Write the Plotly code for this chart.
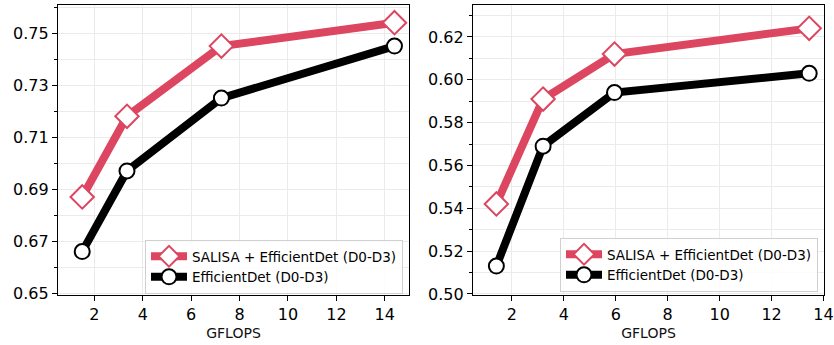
import plotly.graph_objects as go
from plotly.subplots import make_subplots

# GFLOPS vs accuracy, two benchmarks
left_gflops = [1.5, 3.35, 7.25, 14.4]
left_salisa = [0.687, 0.718, 0.745, 0.754]
left_effdet = [0.666, 0.697, 0.725, 0.745]

right_gflops = [1.4, 3.2, 5.95, 13.45]
right_salisa = [0.542, 0.591, 0.612, 0.624]
right_effdet = [0.513, 0.569, 0.594, 0.603]

left_yticks = [0.65, 0.67, 0.69, 0.71, 0.73, 0.75]
right_yticks = [0.50, 0.52, 0.54, 0.56, 0.58, 0.60, 0.62]
xticks = [2, 4, 6, 8, 10, 12, 14]

RED = "#dc4660"
BLACK = "#000000"
FONT = "DejaVu Sans"

fig = make_subplots(rows=1, cols=2)

def add_pair(x, ys, yb, col, legend):
    fig.add_trace(go.Scatter(
        x=x, y=ys, mode="lines+markers", name="SALISA + EfficientDet (D0-D3)",
        line=dict(color=RED, width=8),
        marker=dict(symbol="diamond", size=18, color="white",
                    line=dict(color=RED, width=2)),
        legend=legend), row=1, col=col)
    fig.add_trace(go.Scatter(
        x=x, y=yb, mode="lines+markers", name="EfficientDet (D0-D3)",
        line=dict(color=BLACK, width=8),
        marker=dict(symbol="circle", size=15, color="white",
                    line=dict(color=BLACK, width=2)),
        legend=legend), row=1, col=col)

add_pair(left_gflops, left_salisa, left_effdet, 1, "legend")
add_pair(right_gflops, right_salisa, right_effdet, 2, "legend2")

axis_common = dict(
    showline=True, linecolor="black", linewidth=1.2, mirror=True,
    ticks="outside", ticklen=5, tickwidth=1, tickcolor="black",
    gridcolor="#ebebeb", gridwidth=1, zeroline=False, automargin=False,
    tickfont=dict(family=FONT, size=16, color="black"),
)

fig.update_xaxes(**axis_common, tickvals=xticks,
                 title=dict(text="GFLOPS", font=dict(family=FONT, size=14, color="#111"), standoff=4))
fig.update_xaxes(range=[0.5, 15.0], domain=[58 / 834, 409 / 834], row=1, col=1)
fig.update_xaxes(range=[0.5, 14.02], domain=[473 / 834, 824 / 834], row=1, col=2)

fig.update_yaxes(**axis_common)
fig.update_yaxes(range=[0.6493, 0.7608], domain=[0, 1], tickvals=left_yticks,
                 tickformat=".2f",
                 minor=dict(dtick=0.01, tick0=0.65, ticks="outside", ticklen=3,
                            tickcolor="black", showgrid=True, gridcolor="#ebebeb"),
                 row=1, col=1)
fig.update_yaxes(range=[0.4995, 0.6349], domain=[0, 1], tickvals=right_yticks,
                 tickformat=".2f",
                 minor=dict(dtick=0.01, tick0=0.5, ticks="outside", ticklen=3,
                            tickcolor="black", showgrid=True, gridcolor="#ebebeb"),
                 row=1, col=2)

PLOT_TOP, PLOT_BOTTOM = 5, 295
legend_style = dict(
    font=dict(family=FONT, size=13.5, color="black"),
    bgcolor="rgba(255,255,255,0.85)", bordercolor="#d0d0d0", borderwidth=1,
    xanchor="right", yanchor="bottom", tracegroupgap=0, itemwidth=36,
)
h = PLOT_BOTTOM - PLOT_TOP
fig.update_layout(
    width=834, height=345,
    margin=dict(l=0, r=0, t=PLOT_TOP, b=345 - PLOT_BOTTOM, autoexpand=False),
    paper_bgcolor="white", plot_bgcolor="white",
    font=dict(family=FONT),
    legend=dict(**legend_style, x=403 / 834, y=(PLOT_BOTTOM - 294) / h),
    legend2=dict(**legend_style, x=818 / 834, y=(PLOT_BOTTOM - 292) / h),
)

fig.write_html("out.html")
